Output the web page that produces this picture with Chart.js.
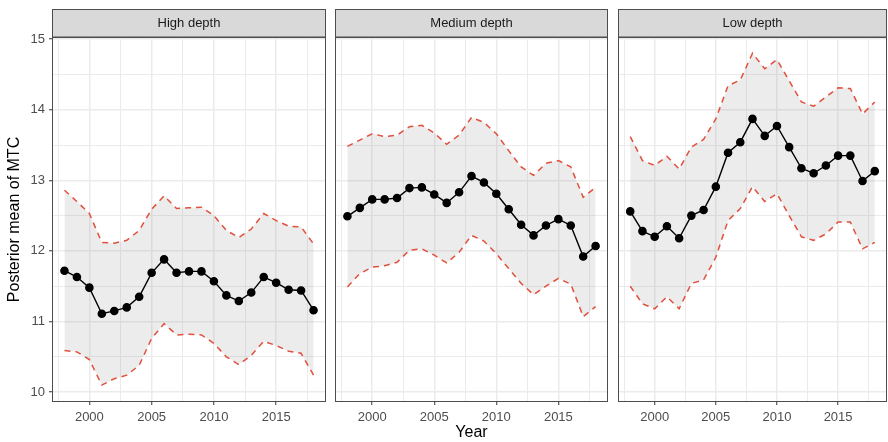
<!DOCTYPE html>
<html>
<head>
<meta charset="utf-8">
<script src="https://cdn.jsdelivr.net/npm/chart.js@4"></script>
<style>
  body { margin: 0; background: #fff; }
  #wrap { position: relative; width: 888px; height: 442px; overflow: hidden; }
  .panel { position: absolute; top: 0; height: 442px; }
</style>
</head>
<body>
<div id="wrap">
  <div class="panel" style="left:0;width:330px"><canvas id="p0"></canvas></div>
  <div class="panel" style="left:330px;width:280px"><canvas id="p1"></canvas></div>
  <div class="panel" style="left:610px;width:278px"><canvas id="p2"></canvas></div>
</div>
<script>
var years = [1998, 1999, 2000, 2001, 2002, 2003, 2004, 2005, 2006, 2007, 2008,
        2009, 2010, 2011, 2012, 2013, 2014, 2015, 2016, 2017, 2018];

var panelTitles = ['High depth', 'Medium depth', 'Low depth'];

var highMean  = [11.72, 11.63, 11.48, 11.11, 11.15, 11.20, 11.35, 11.69, 11.88, 11.69, 11.71,
        11.71, 11.57, 11.37, 11.29, 11.41, 11.63, 11.55, 11.45, 11.44, 11.16];
var highUpper = [12.86, 12.70, 12.53, 12.12, 12.11, 12.15, 12.29, 12.59, 12.78, 12.60, 12.61,
        12.62, 12.50, 12.29, 12.19, 12.31, 12.53, 12.43, 12.35, 12.34, 12.10];
var highLower = [10.59, 10.57, 10.46, 10.10, 10.19, 10.24, 10.38, 10.76, 10.97, 10.81, 10.82,
        10.81, 10.69, 10.50, 10.39, 10.52, 10.72, 10.66, 10.58, 10.55, 10.24];

var medMean  = [12.49, 12.61, 12.73, 12.73, 12.75, 12.89, 12.90, 12.80, 12.68, 12.83, 13.06,
        12.97, 12.81, 12.59, 12.37, 12.22, 12.36, 12.45, 12.36, 11.92, 12.07];
var medUpper = [13.48, 13.57, 13.66, 13.62, 13.64, 13.76, 13.78, 13.67, 13.51, 13.64, 13.89,
        13.82, 13.66, 13.42, 13.19, 13.07, 13.24, 13.28, 13.19, 12.76, 12.90];
var medLower = [11.49, 11.68, 11.77, 11.79, 11.84, 12.01, 12.03, 11.94, 11.83, 11.98, 12.22,
        12.14, 11.96, 11.75, 11.54, 11.38, 11.50, 11.61, 11.53, 11.07, 11.21];

var lowMean  = [12.56, 12.28, 12.20, 12.35, 12.18, 12.50, 12.58, 12.91, 13.39, 13.54, 13.87,
        13.63, 13.77, 13.47, 13.17, 13.10, 13.21, 13.35, 13.35, 12.99, 13.13];
var lowUpper = [13.62, 13.28, 13.21, 13.34, 13.16, 13.47, 13.58, 13.87, 14.34, 14.42, 14.80,
        14.58, 14.71, 14.41, 14.11, 14.05, 14.18, 14.31, 14.30, 13.94, 14.11];
var lowLower = [11.50, 11.25, 11.18, 11.35, 11.18, 11.54, 11.59, 11.91, 12.43, 12.60, 12.91,
        12.70, 12.81, 12.50, 12.20, 12.15, 12.24, 12.41, 12.41, 12.03, 12.12];

var xTicks = [1997.5, 2000, 2002.5, 2005, 2007.5, 2010, 2012.5, 2015, 2017.5];
var yTicks = [10, 10.5, 11, 11.5, 12, 12.5, 13, 13.5, 14, 14.5, 15];

var series = [
    [highMean, highUpper, highLower],
    [medMean, medUpper, medLower],
    [lowMean, lowUpper, lowLower]
];

var FONT = "'Liberation Sans', Arial, sans-serif";
var dashRed = '#e0503d';

function pts(values) {
    return years.map((y, i) => ({x: y, y: values[i]}));
}

// strip on top + panel border, like facet_wrap with theme_bw
var facetPlugin = {
    id: 'facet',
    afterDraw(chart, args, opts) {
        const ctx = chart.ctx;
        const a = chart.chartArea;
        ctx.save();
        ctx.fillStyle = '#d9d9d9';
        ctx.fillRect(a.left, 9.5, a.right - a.left, a.top - 9.5);
        ctx.strokeStyle = '#4d4d4d';
        ctx.lineWidth = 1;
        ctx.strokeRect(a.left + 0.5, 9.5, a.right - a.left - 1, a.top - 9.5);
        ctx.strokeRect(a.left + 0.5, a.top + 0.5, a.right - a.left - 1, a.bottom - a.top - 1);
        ctx.fillStyle = '#1a1a1a';
        ctx.font = '13px ' + FONT;
        ctx.textAlign = 'center';
        ctx.textBaseline = 'middle';
        ctx.fillText(opts.title, (a.left + a.right) / 2, (9.5 + a.top) / 2 + 0.5);
        ctx.restore();
    }
};

function makePanel(idx) {
    const [mean, upper, lower] = series[idx];
    const first = idx === 0;
    const yWidth = [52, 5, 8][idx];
    const padRight = [4, 2, 1][idx];
    const ctx = document.getElementById('p' + idx);
    return new Chart(ctx, {
        type: 'line',
        plugins: [facetPlugin],
        data: {
            datasets: [{
                data: pts(lower),
                borderColor: dashRed,
                borderWidth: 1.5,
                borderDash: [6, 5],
                pointRadius: 0,
                fill: false
            }, {
                data: pts(upper),
                borderColor: dashRed,
                borderWidth: 1.5,
                borderDash: [6, 5],
                pointRadius: 0,
                fill: '-1',
                backgroundColor: 'rgba(128,128,128,0.15)'
            }, {
                data: pts(mean),
                borderColor: '#000',
                borderWidth: 1.4,
                pointRadius: 3.6,
                pointBackgroundColor: '#000',
                pointBorderColor: '#000',
                fill: false
            }]
        },
        options: {
            responsive: true,
            maintainAspectRatio: false,
            animation: false,
            events: [],
            layout: {autoPadding: false, padding: {top: 37, right: padRight, left: 0, bottom: 0}},
            plugins: {
                legend: {display: false},
                tooltip: {enabled: false},
                filler: {drawTime: 'beforeDatasetsDraw'},
                facet: {title: panelTitles[idx]}
            },
            scales: {
                x: {
                    type: 'linear',
                    min: 1997,
                    max: 2019,
                    afterBuildTicks: (scale) => { scale.ticks = xTicks.map(v => ({value: v})); },
                    afterFit: (scale) => { scale.height = 40; },
                    border: {display: false},
                    grid: {
                        color: '#ebebeb',
                        lineWidth: (c) => (c.tick && c.tick.value % 5 === 0) ? 1.5 : 1,
                        tickColor: (c) => (c.tick && c.tick.value % 5 === 0) ? '#333' : 'rgba(0,0,0,0)',
                        tickLength: 3,
                        tickWidth: 1
                    },
                    ticks: {
                        autoSkip: false,
                        maxRotation: 0,
                        padding: 5,
                        color: '#4d4d4d',
                        font: {family: FONT, size: 13},
                        callback: (v) => v % 5 === 0 ? String(v) : ''
                    },
                    title: {
                        display: idx === 1,
                        text: 'Year',
                        color: '#000',
                        font: {family: FONT, size: 16},
                        padding: {top: 0, bottom: 0}
                    }
                },
                y: {
                    type: 'linear',
                    min: 9.86,
                    max: 15.03,
                    afterBuildTicks: (scale) => { scale.ticks = yTicks.map(v => ({value: v})); },
                    afterFit: (scale) => { scale.width = yWidth; },
                    border: {display: false},
                    grid: {
                        color: '#ebebeb',
                        lineWidth: (c) => (c.tick && c.tick.value % 1 === 0) ? 1.5 : 1,
                        drawTicks: first,
                        tickColor: (c) => (c.tick && c.tick.value % 1 === 0) ? '#333' : 'rgba(0,0,0,0)',
                        tickLength: 3,
                        tickWidth: 1
                    },
                    ticks: {
                        display: first,
                        autoSkip: false,
                        padding: 4,
                        color: '#4d4d4d',
                        font: {family: FONT, size: 13},
                        callback: (v) => v % 1 === 0 ? String(v) : ''
                    },
                    title: {
                        display: first,
                        text: 'Posterior mean of MTC',
                        color: '#000',
                        font: {family: FONT, size: 16},
                        padding: {top: 5, bottom: 0}
                    }
                }
            }
        }
    });
}

[0, 1, 2].forEach(makePanel);
</script>
</body>
</html>
